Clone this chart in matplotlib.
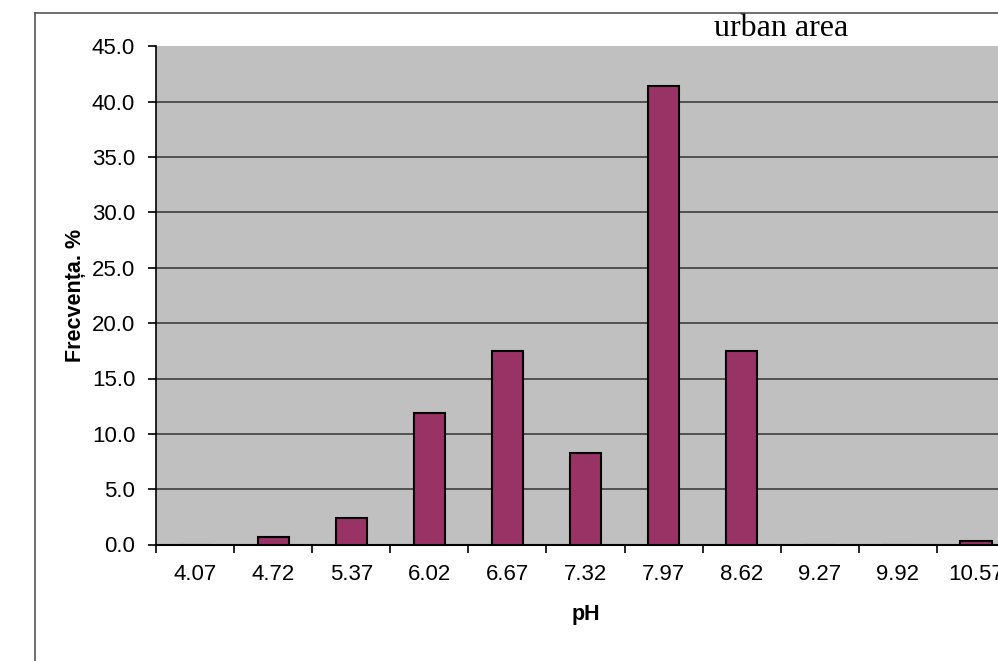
import numpy as np
import matplotlib
matplotlib.use('Agg')
import matplotlib.pyplot as plt
from matplotlib.lines import Line2D

# pH class centres and frequency (%)
ph_labels = ['4.07', '4.72', '5.37', '6.02', '6.67', '7.32', '7.97', '8.62', '9.27', '9.92', '10.57']
freq = [0.0, 0.7, 2.4, 11.9, 17.5, 8.3, 41.4, 17.5, 0.0, 0.0, 0.3]
yticks = [0, 5, 10, 15, 20, 25, 30, 35, 40, 45]

title = 'urban area'
xlab = 'pH'
ylab = 'Frecvența. %'

plt.rcParams['font.family'] = ['Liberation Sans', 'DejaVu Sans']

W, H = 998, 661
fig = plt.figure(figsize=(W / 100, H / 100), dpi=100)

# plot area runs past the right edge, like the cropped original
left, right = 156 / W, 1015 / W
bottom, top = 1 - 544.5 / H, 1 - 46.5 / H
ax = fig.add_axes([left, bottom, right - left, top - bottom])
ax.set_facecolor('#C0C0C0')

x = np.arange(len(ph_labels))
ax.bar(x, freq, width=0.4, color='#993366', edgecolor='black', linewidth=1.5, zorder=3)

ax.set_xlim(-0.5, len(ph_labels) - 0.5)
ax.set_ylim(0, 45)
ax.set_yticks(yticks)
ax.set_yticklabels([f'{v:.1f}' for v in yticks], fontsize=16)
ax.yaxis.grid(True, color='#333333', linewidth=1.1, zorder=1)
ax.set_axisbelow(True)

# category labels centred, tick marks between categories
ax.set_xticks(x)
ax.set_xticklabels(ph_labels, fontsize=16)
ax.tick_params(axis='x', length=0, pad=14)
ax.set_xticks(np.arange(len(ph_labels)) - 0.5, minor=True)
ax.tick_params(axis='x', which='minor', length=6, width=1.2, direction='out', color='black')
ax.tick_params(axis='y', length=6, width=1.2, direction='out', pad=9)

for s in ['top', 'right']:
    ax.spines[s].set_visible(False)
ax.spines['left'].set_linewidth(1.2)
ax.spines['bottom'].set_linewidth(1.5)

ax.set_xlabel(xlab, fontsize=15.5, fontweight='bold', labelpad=14)
ax.set_ylabel(ylab, fontsize=15.5, fontweight='bold', labelpad=4)

fig.text(781 / W, 1 - 29 / H, title, fontsize=23, family='Liberation Serif',
         ha='center', va='center')

# outer chart border (left and top edges visible)
fig.add_artist(Line2D([34.5 / W, 34.5 / W], [0, 1 - 13 / H], transform=fig.transFigure,
                      color='#555555', linewidth=1.2))
fig.add_artist(Line2D([34.5 / W, 1], [1 - 13 / H, 1 - 13 / H], transform=fig.transFigure,
                      color='#555555', linewidth=1.2))

fig.savefig('out.png', dpi=100)
